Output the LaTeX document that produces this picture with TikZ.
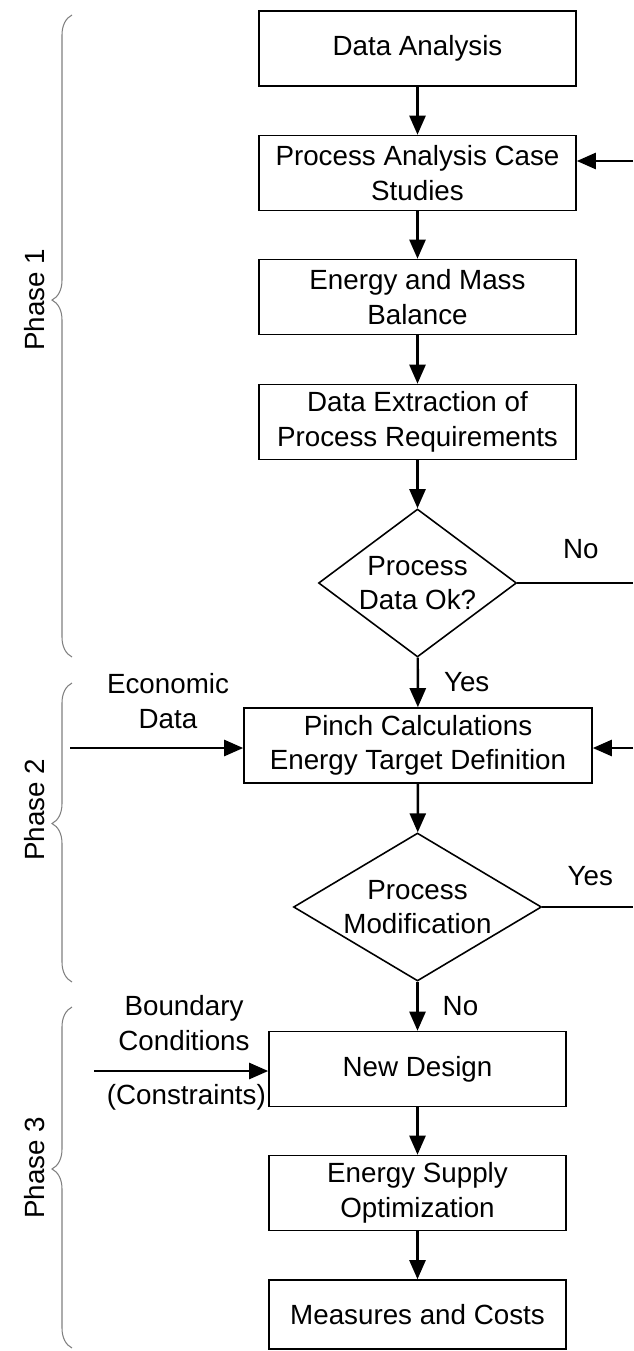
\documentclass[tikz,border=0pt]{standalone}
\usepackage{fontspec}
\setmainfont{Liberation Sans}
\usetikzlibrary{arrows.meta,positioning,shapes.geometric,decorations.pathreplacing}

\newcommand{\flowfont}{\fontsize{15.8pt}{19.6pt}\selectfont}
\tikzset{
  procbox/.style={draw, line width=0.9pt, minimum width=6.34cm, minimum height=1.5cm, align=center, inner sep=0pt},
  decision/.style={draw, diamond, line width=0.9pt, inner sep=0pt, align=center},
  flow/.style={line width=1.4pt, -{Triangle[length=0.38cm, width=0.32cm]}},
  plainline/.style={line width=1.4pt},
  phasebrace/.style={decorate, decoration={brace, amplitude=0.4cm}, gray, line width=0.6pt},
  lbl/.style={align=center, inner sep=0pt}
}

\begin{document}
\begin{tikzpicture}[font=\flowfont]
\useasboundingbox (0,0) rectangle (12.66,-27.02);

% Phase 1
\node[procbox] (analysis) at (8.35,-0.97) {Data Analysis};
\node[procbox] (cases) at (8.35,-3.46) {Process Analysis Case\\Studies};
\node[procbox] (balance) at (8.35,-5.94) {Energy and Mass\\Balance};
\node[procbox] (extract) at (8.35,-8.44) {Data Extraction of\\Process Requirements};
\node[decision, minimum width=3.96cm, minimum height=2.96cm, aspect=1.34] (dataok) at (8.35,-11.66) {Process\\Data Ok?};

% Phase 2
\node[procbox, minimum width=6.96cm] (pinch) at (8.36,-14.91) {Pinch Calculations\\Energy Target Definition};
\node[decision, minimum width=4.96cm, minimum height=2.96cm, aspect=1.68] (modif) at (8.35,-18.14) {Process\\Modification};

% Phase 3
\node[procbox, minimum width=5.94cm] (design) at (8.35,-21.38) {New Design};
\node[procbox, minimum width=5.94cm] (supply) at (8.35,-23.86) {Energy Supply\\Optimization};
\node[procbox, minimum width=5.94cm, minimum height=1.38cm] (costs) at (8.35,-26.29) {Measures and Costs};

% Main flow
\draw[flow] (analysis) -- (cases);
\draw[flow] (cases) -- (balance);
\draw[flow] (balance) -- (extract);
\draw[flow] (extract) -- (dataok);
\draw[flow] (dataok) -- node[lbl, right=0.5cm] (yesA) {Yes} (pinch);
\draw[flow] (pinch) -- (modif);
\draw[flow] (modif) -- node[lbl, right=0.48cm] (noB) {No} (design);
\draw[flow] (design) -- (supply);
\draw[flow] (supply) -- (costs);

% Loops on the right
\coordinate (backA) at (12.66,-3.22);
\coordinate (noEnd) at (12.66,-11.66);
\coordinate (backB) at (12.66,-14.96);
\coordinate (yesEnd) at (12.66,-18.14);
\draw[flow] (backA) -- (backA -| cases.east);
\draw[plainline] (dataok.east) -- node[lbl, pos=0.55, above=0.46cm] (noA) {No} (noEnd);
\draw[flow] (backB) -- (backB -| pinch.east);
\draw[plainline] (modif.east) -- node[lbl, pos=0.53, above=0.4cm] (yesB) {Yes} (yesEnd);

% Inputs on the left
\coordinate (econIn) at (1.4,-14.96);
\draw[flow] (econIn) -- (econIn -| pinch.west);
\node[lbl] (econ) at (3.36,-14.02) {Economic\\Data};
\coordinate (consIn) at (1.88,-21.42);
\draw[flow] (consIn) -- (consIn -| design.west);
\node[lbl] (bound) at (3.68,-20.46) {Boundary\\Conditions};
\node[lbl, anchor=east] (cons) at ([xshift=-0.04cm]design.west |- 0,-21.94) {(Constraints)};

% Phase braces
\draw[phasebrace, decoration={aspect=0.556}] (1.44,-13.14) -- (1.44,-0.3);
\draw[phasebrace, decoration={aspect=0.53}] (1.44,-19.64) -- (1.44,-13.66);
\draw[phasebrace, decoration={aspect=0.525}] (1.44,-26.96) -- (1.44,-20.14);
\node[rotate=90] (ph1) at (0.7,-6.0) {Phase 1};
\node[rotate=90] (ph2) at (0.7,-16.2) {Phase 2};
\node[rotate=90] (ph3) at (0.7,-23.36) {Phase 3};
\end{tikzpicture}
\end{document}
